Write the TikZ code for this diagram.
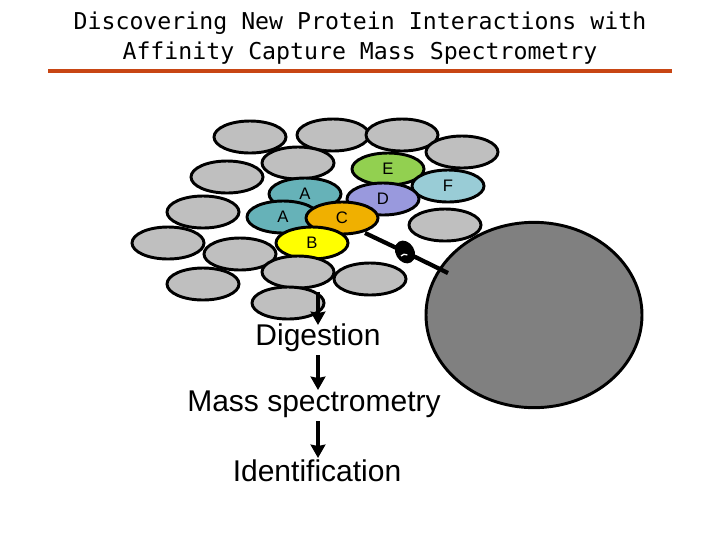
\documentclass[tikz,border=0pt]{standalone}
\usepackage{fontspec}
\setmainfont{Liberation Sans}
\newfontfamily\titlefont{DejaVu Sans Mono}
\usetikzlibrary{shapes.geometric,arrows.meta}
\begin{document}
\begin{tikzpicture}[x=0.75pt,y=-0.75pt,
  prot/.style={ellipse,draw=black,line width=2.2pt,minimum width=54pt,minimum height=24pt,inner sep=0pt,font=\fontsize{12.5}{13}\selectfont},
  flow/.style={-{Stealth[length=10pt,width=11pt,inset=1pt]},line width=2.4pt},
  lbl/.style={font=\fontsize{22.5}{26}\selectfont}]
\useasboundingbox (0,0) rectangle (720,540);
\node[font=\titlefont\fontsize{17.4}{23}\selectfont,align=center] (title) at (360,38) {Discovering New Protein Interactions with\\Affinity Capture Mass Spectrometry};
\coordinate (l1) at (48,71); \coordinate (l2) at (672,71);
\draw[line width=2.5pt,draw={rgb,255:red,200;green,70;blue,20}] (l1) -- (l2);
\colorlet{pg}{black!25}
\node[prot,fill=pg] (g1) at (250,137) {};
\node[prot,fill=pg] (g2) at (333,135) {};
\node[prot,fill=pg] (g3) at (402,135) {};
\node[prot,fill=pg] (g4) at (462,152) {};
\node[prot,fill=pg] (g5) at (298,163) {};
\node[prot,fill=pg] (g6) at (227,177) {};
\node[prot,fill={rgb,255:red,146;green,208;blue,80}] (E) at (388,169) {E};
\node[prot,fill={rgb,255:red,153;green,204;blue,214}] (F) at (448,186) {F};
\node[prot,fill={rgb,255:red,102;green,178;blue,184}] (A1) at (305,194) {A};
\node[prot,fill={rgb,255:red,153;green,153;blue,221}] (D) at (383,199) {D};
\node[prot,fill=pg] (g7) at (203,212) {};
\node[prot,fill={rgb,255:red,102;green,178;blue,184}] (A2) at (283,217) {A};
\node[prot,fill={rgb,255:red,240;green,176;blue,0}] (C) at (342,218) {C};
\node[prot,fill=pg] (g8) at (445,225) {};
\node[prot,fill=pg] (g9) at (168,243) {};
\node[prot,fill={rgb,255:red,255;green,255;blue,0}] (B) at (312,243) {B};
\node[prot,fill=pg] (g10) at (240,254) {};
\node[prot,fill=pg] (g11) at (298,272) {};
\node[prot,fill=pg] (g12) at (370,279) {};
\node[prot,fill=pg] (g13) at (203,284) {};
\node[prot,fill=pg] (g14) at (288,303) {};
\node[ellipse,draw=black,line width=2.2pt,fill=black!50,minimum width=162pt,minimum height=139pt] (bead) at (534,315) {};
\coordinate (k) at (405,252);
\coordinate (c0) at (365,233);
\coordinate (b0) at (448,273);
\draw[line width=3.2pt] (c0) -- (k);
\draw[line width=3.2pt] (k) -- (b0);
\fill[rotate around={30:(k)}] (k) ellipse (7pt and 9pt);
\draw[white,line width=1pt] (401,256) arc (220:300:5);
\node[lbl] (dig) at (318,338) {Digestion};
\node[lbl] (ms) at (314,404) {Mass spectrometry};
\node[lbl] (id) at (317,471) {Identification};
\coordinate (s) at (318,292);
\coordinate (t1) at (318,325);
\coordinate (s2) at (318,355);
\coordinate (t2) at (318,390);
\coordinate (s3) at (318,421);
\coordinate (t3) at (318,458);
\draw[flow] (s) -- (t1);
\draw[flow] (s2) -- (t2);
\draw[flow] (s3) -- (t3);
\end{tikzpicture}
\end{document}
